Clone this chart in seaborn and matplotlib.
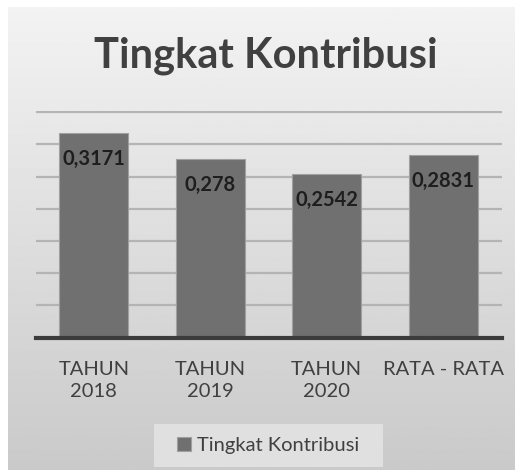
import numpy as np
import pandas as pd
import matplotlib
matplotlib.use("Agg")
import matplotlib.pyplot as plt
import seaborn as sns
from matplotlib.patches import Rectangle

# data
categories = ["TAHUN\n2018", "TAHUN\n2019", "TAHUN\n2020", "RATA - RATA"]
values = [0.3171, 0.278, 0.2542, 0.2831]
value_labels = ["0,3171", "0,278", "0,2542", "0,2831"]
series_name = "Tingkat Kontribusi"

sns.set_theme(style="white")
plt.rcParams["font.family"] = ["Lato", "DejaVu Sans"]

W, H = 521, 476
fig = plt.figure(figsize=(W / 100, H / 100), dpi=100)
fig.patch.set_facecolor("white")

# gradient chart background (Excel style)
bg = fig.add_axes([0, 0, 1, 1], zorder=-10)
bg.set_xlim(0, W)
bg.set_ylim(H, 0)
bg.axis("off")
grad = np.linspace(0.95, 0.79, 256)[:, None] * np.ones((1, 2))
bg.imshow(grad, cmap="gray", vmin=0, vmax=1, extent=[8, 515, 470, 7], aspect="auto")
# legend box
bg.add_patch(Rectangle((154, 424), 229, 43, facecolor="#e0e0e0", edgecolor="none"))

# plot area in pixel terms
ymax = 0.352
base_y = 337.7
px_per_unit = 644.6
top_y = base_y - ymax * px_per_unit
left, right = 35.6, 501.5
ax = fig.add_axes([left / W, (H - base_y) / H, (right - left) / W, (base_y - top_y) / H])
ax.patch.set_alpha(0)

df = pd.DataFrame({"kategori": categories, "nilai": values})
sns.barplot(data=df, x="kategori", y="nilai", color="#707070", saturation=1,
            width=0.59, edgecolor="#a0a0a0", linewidth=0.8, label=series_name, ax=ax)

ax.set_ylim(0, ymax)
ax.set_yticks(np.arange(0.05, 0.351, 0.05))
ax.yaxis.grid(True, color="#b4b4b4", linewidth=1.6)
ax.set_axisbelow(True)
ax.tick_params(axis="y", left=False, labelleft=False)
ax.tick_params(axis="x", bottom=False, labelsize=14.5, labelcolor="#404040", pad=11)
for t in ax.get_xticklabels():
    t.set_linespacing(1.3)
ax.set_xlabel("")
ax.set_ylabel("")
for s in ["left", "right", "top"]:
    ax.spines[s].set_visible(False)
ax.spines["bottom"].set_color("#3c3c3c")
ax.spines["bottom"].set_linewidth(3)

for bar, lab in zip(ax.containers[0], value_labels):
    ax.annotate(lab, (bar.get_x() + bar.get_width() / 2, bar.get_height()),
                xytext=(0, -26), textcoords="offset pixels", ha="center", va="center",
                fontsize=14.5, fontweight="bold", color="#1e1e1e")

fig.text(266 / W, 1 - 56 / H, "Tingkat Kontribusi", ha="center", va="center",
         fontsize=30, fontweight="bold", color="#404040")

ax.legend(loc="center", bbox_to_anchor=(268 / W, 1 - 445.5 / H), bbox_transform=fig.transFigure,
          fontsize=14.5, frameon=False, handlelength=0.7, handleheight=0.7,
          handletextpad=0.3, labelcolor="#404040")

fig.savefig("out.png", dpi=100)
